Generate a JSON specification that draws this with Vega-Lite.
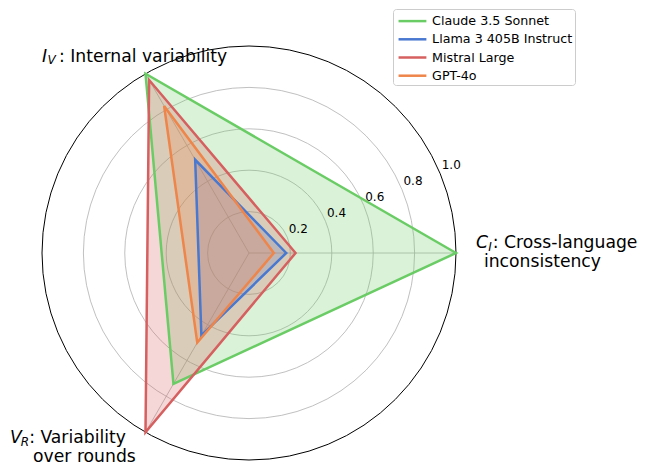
{
  "$schema": "https://vega.github.io/schema/vega-lite/v6.json",
  "width": 414,
  "height": 414,
  "autosize": "none",
  "padding": {"left": 42, "top": 46, "right": 198, "bottom": 15},
  "config": {"view": {"stroke": null}, "font": "DejaVu Sans"},
  "datasets": {
    "scores": [
      {"model": "Claude 3.5 Sonnet", "metric": "C_I", "k": 0, "value": 1.0},
      {"model": "Claude 3.5 Sonnet", "metric": "I_V", "k": 1, "value": 1.0},
      {"model": "Claude 3.5 Sonnet", "metric": "V_R", "k": 2, "value": 0.73},
      {"model": "Llama 3 405B Instruct", "metric": "C_I", "k": 0, "value": 0.18},
      {"model": "Llama 3 405B Instruct", "metric": "I_V", "k": 1, "value": 0.52},
      {"model": "Llama 3 405B Instruct", "metric": "V_R", "k": 2, "value": 0.46},
      {"model": "Mistral Large", "metric": "C_I", "k": 0, "value": 0.225},
      {"model": "Mistral Large", "metric": "I_V", "k": 1, "value": 0.965},
      {"model": "Mistral Large", "metric": "V_R", "k": 2, "value": 1.0},
      {"model": "GPT-4o", "metric": "C_I", "k": 0, "value": 0.12},
      {"model": "GPT-4o", "metric": "I_V", "k": 1, "value": 0.82},
      {"model": "GPT-4o", "metric": "V_R", "k": 2, "value": 0.5}
    ],
    "axes": [
      {"metric": "C_I", "k": 0, "r": 1},
      {"metric": "I_V", "k": 1, "r": 1},
      {"metric": "V_R", "k": 2, "r": 1}
    ],
    "rings": [{"r": 0.2}, {"r": 0.4}, {"r": 0.6}, {"r": 0.8}, {"r": 1.0}]
  },
  "layer": [
    {
      "data": {"name": "rings"},
      "transform": [{"filter": "datum.r < 1"}],
      "mark": {"type": "arc", "filled": false, "stroke": "#b0b0b0", "strokeWidth": 0.8, "theta": 0, "theta2": 6.2832},
      "encoding": {
        "radius": {"field": "r", "type": "quantitative", "stack": null, "scale": {"type": "linear", "domain": [0, 1], "range": [0, 207], "zero": true}}
      }
    },
    {
      "data": {"name": "rings"},
      "transform": [{"filter": "datum.r >= 1"}],
      "mark": {"type": "arc", "filled": false, "stroke": "#000000", "strokeWidth": 1, "theta": 0, "theta2": 6.2832},
      "encoding": {
        "radius": {"field": "r", "type": "quantitative", "stack": null, "scale": {"type": "linear", "domain": [0, 1], "range": [0, 207], "zero": true}}
      }
    },
    {
      "data": {"name": "axes"},
      "transform": [
        {"calculate": "datum.r*cos(datum.k*2*PI/3)", "as": "ex"},
        {"calculate": "datum.r*sin(datum.k*2*PI/3)", "as": "ey"},
        {"calculate": "0", "as": "ox"}
      ],
      "mark": {"type": "rule", "stroke": "#b0b0b0", "strokeWidth": 0.8},
      "encoding": {
        "x": {"field": "ox", "type": "quantitative", "scale": {"domain": [-1, 1], "nice": false, "zero": false}, "axis": null},
        "y": {"field": "ox", "type": "quantitative", "scale": {"domain": [-1, 1], "nice": false, "zero": false}, "axis": null},
        "x2": {"field": "ex"},
        "y2": {"field": "ey"}
      }
    },
    {
      "data": {"name": "scores"},
      "transform": [
        {"calculate": "datum.value*cos(datum.k*2*PI/3)", "as": "px"},
        {"calculate": "datum.value*sin(datum.k*2*PI/3)", "as": "py"}
      ],
      "mark": {"type": "line", "interpolate": "linear-closed", "strokeWidth": 0, "strokeOpacity": 0, "fillOpacity": 0.25},
      "encoding": {
        "x": {"field": "px", "type": "quantitative", "scale": {"domain": [-1, 1], "nice": false, "zero": false}, "axis": null},
        "y": {"field": "py", "type": "quantitative", "scale": {"domain": [-1, 1], "nice": false, "zero": false}, "axis": null},
        "order": {"field": "k", "type": "quantitative"},
        "fill": {
          "field": "model", "type": "nominal",
          "scale": {"domain": ["Claude 3.5 Sonnet", "Llama 3 405B Instruct", "Mistral Large", "GPT-4o"], "range": ["#6acc64", "#4878d0", "#d65f5f", "#ee854a"]},
          "legend": {
            "title": null, "orient": "none", "legendX": 351, "legendY": -37,
            "symbolType": "M-0.8,0H2.6", "symbolSize": 268, "symbolStrokeWidth": 2.5,
            "labelFontSize": 12.7, "labelFont": "DejaVu Sans", "labelColor": "#000000",
            "labelOffset": 17.5, "padding": 2.6, "rowPadding": 1.2,
            "strokeColor": "#cccccc", "fillColor": "#ffffff", "cornerRadius": 3
          }
        }
      }
    },
    {
      "data": {"name": "scores"},
      "transform": [
        {"calculate": "datum.value*cos(datum.k*2*PI/3)", "as": "px"},
        {"calculate": "datum.value*sin(datum.k*2*PI/3)", "as": "py"}
      ],
      "mark": {"type": "line", "interpolate": "linear-closed", "strokeWidth": 2.5, "strokeJoin": "miter"},
      "encoding": {
        "x": {"field": "px", "type": "quantitative", "scale": {"domain": [-1, 1], "nice": false, "zero": false}, "axis": null},
        "y": {"field": "py", "type": "quantitative", "scale": {"domain": [-1, 1], "nice": false, "zero": false}, "axis": null},
        "order": {"field": "k", "type": "quantitative"},
        "stroke": {
          "field": "model", "type": "nominal",
          "scale": {"domain": ["Claude 3.5 Sonnet", "Llama 3 405B Instruct", "Mistral Large", "GPT-4o"], "range": ["#6acc64", "#4878d0", "#d65f5f", "#ee854a"]},
          "legend": {
            "title": null, "orient": "none", "legendX": 351, "legendY": -37,
            "symbolType": "M-0.8,0H2.6", "symbolSize": 268, "symbolStrokeWidth": 2.5,
            "labelFontSize": 12.7, "labelFont": "DejaVu Sans", "labelColor": "#000000",
            "labelOffset": 17.5, "padding": 2.6, "rowPadding": 1.2,
            "strokeColor": "#cccccc", "fillColor": "#ffffff", "cornerRadius": 3
          }
        }
      }
    },
    {
      "data": {"name": "rings"},
      "transform": [
        {"calculate": "datum.r*cos(PI/8)", "as": "lx"},
        {"calculate": "datum.r*sin(PI/8)", "as": "ly"}
      ],
      "mark": {"type": "text", "align": "center", "baseline": "middle", "fontSize": 12, "font": "DejaVu Sans", "dx": 11, "dy": -8.5, "color": "#000000"},
      "encoding": {
        "x": {"field": "lx", "type": "quantitative", "scale": {"domain": [-1, 1], "nice": false, "zero": false}, "axis": null},
        "y": {"field": "ly", "type": "quantitative", "scale": {"domain": [-1, 1], "nice": false, "zero": false}, "axis": null},
        "text": {"field": "r", "type": "quantitative", "format": ".1f"}
      }
    },
    {
      "data": {"values": [{}]},
      "mark": {"type": "text", "text": "I", "align": "left", "baseline": "alphabetic", "fontSize": 17.2, "fontStyle": "italic", "font": "DejaVu Sans", "color": "#000000"},
      "encoding": {
        "x": {"datum": -1.0, "type": "quantitative", "scale": {"domain": [-1, 1], "nice": false, "zero": false}, "axis": null},
        "y": {"datum": 0.924, "type": "quantitative", "scale": {"domain": [-1, 1], "nice": false, "zero": false}, "axis": null}
      }
    },
    {
      "data": {"values": [{}]},
      "mark": {"type": "text", "text": "V", "align": "left", "baseline": "alphabetic", "fontSize": 12, "fontStyle": "italic", "font": "DejaVu Sans", "color": "#000000"},
      "encoding": {
        "x": {"datum": -0.974, "type": "quantitative", "scale": {"domain": [-1, 1], "nice": false, "zero": false}, "axis": null},
        "y": {"datum": 0.911, "type": "quantitative", "scale": {"domain": [-1, 1], "nice": false, "zero": false}, "axis": null}
      }
    },
    {
      "data": {"values": [{}]},
      "mark": {"type": "text", "text": ": Internal variability", "align": "left", "baseline": "alphabetic", "fontSize": 17.2, "font": "DejaVu Sans", "color": "#000000"},
      "encoding": {
        "x": {"datum": -0.918, "type": "quantitative", "scale": {"domain": [-1, 1], "nice": false, "zero": false}, "axis": null},
        "y": {"datum": 0.924, "type": "quantitative", "scale": {"domain": [-1, 1], "nice": false, "zero": false}, "axis": null}
      }
    },
    {
      "data": {"values": [{}]},
      "mark": {"type": "text", "text": "C", "align": "left", "baseline": "alphabetic", "fontSize": 17.2, "fontStyle": "italic", "font": "DejaVu Sans", "color": "#000000"},
      "encoding": {
        "x": {"datum": 1.097, "type": "quantitative", "scale": {"domain": [-1, 1], "nice": false, "zero": false}, "axis": null},
        "y": {"datum": 0.024, "type": "quantitative", "scale": {"domain": [-1, 1], "nice": false, "zero": false}, "axis": null}
      }
    },
    {
      "data": {"values": [{}]},
      "mark": {"type": "text", "text": "I", "align": "left", "baseline": "alphabetic", "fontSize": 12, "fontStyle": "italic", "font": "DejaVu Sans", "color": "#000000"},
      "encoding": {
        "x": {"datum": 1.156, "type": "quantitative", "scale": {"domain": [-1, 1], "nice": false, "zero": false}, "axis": null},
        "y": {"datum": 0.011, "type": "quantitative", "scale": {"domain": [-1, 1], "nice": false, "zero": false}, "axis": null}
      }
    },
    {
      "data": {"values": [{}]},
      "mark": {"type": "text", "text": ": Cross-language", "align": "left", "baseline": "alphabetic", "fontSize": 17.2, "font": "DejaVu Sans", "color": "#000000"},
      "encoding": {
        "x": {"datum": 1.178, "type": "quantitative", "scale": {"domain": [-1, 1], "nice": false, "zero": false}, "axis": null},
        "y": {"datum": 0.024, "type": "quantitative", "scale": {"domain": [-1, 1], "nice": false, "zero": false}, "axis": null}
      }
    },
    {
      "data": {"values": [{}]},
      "mark": {"type": "text", "text": "inconsistency", "align": "left", "baseline": "alphabetic", "fontSize": 17.2, "font": "DejaVu Sans", "color": "#000000"},
      "encoding": {
        "x": {"datum": 1.135, "type": "quantitative", "scale": {"domain": [-1, 1], "nice": false, "zero": false}, "axis": null},
        "y": {"datum": -0.068, "type": "quantitative", "scale": {"domain": [-1, 1], "nice": false, "zero": false}, "axis": null}
      }
    },
    {
      "data": {"values": [{}]},
      "mark": {"type": "text", "text": "V", "align": "left", "baseline": "alphabetic", "fontSize": 17.2, "fontStyle": "italic", "font": "DejaVu Sans", "color": "#000000"},
      "encoding": {
        "x": {"datum": -1.155, "type": "quantitative", "scale": {"domain": [-1, 1], "nice": false, "zero": false}, "axis": null},
        "y": {"datum": -0.92, "type": "quantitative", "scale": {"domain": [-1, 1], "nice": false, "zero": false}, "axis": null}
      }
    },
    {
      "data": {"values": [{}]},
      "mark": {"type": "text", "text": "R", "align": "left", "baseline": "alphabetic", "fontSize": 12, "fontStyle": "italic", "font": "DejaVu Sans", "color": "#000000"},
      "encoding": {
        "x": {"datum": -1.103, "type": "quantitative", "scale": {"domain": [-1, 1], "nice": false, "zero": false}, "axis": null},
        "y": {"datum": -0.934, "type": "quantitative", "scale": {"domain": [-1, 1], "nice": false, "zero": false}, "axis": null}
      }
    },
    {
      "data": {"values": [{}]},
      "mark": {"type": "text", "text": ": Variability", "align": "left", "baseline": "alphabetic", "fontSize": 17.2, "font": "DejaVu Sans", "color": "#000000"},
      "encoding": {
        "x": {"datum": -1.062, "type": "quantitative", "scale": {"domain": [-1, 1], "nice": false, "zero": false}, "axis": null},
        "y": {"datum": -0.92, "type": "quantitative", "scale": {"domain": [-1, 1], "nice": false, "zero": false}, "axis": null}
      }
    },
    {
      "data": {"values": [{}]},
      "mark": {"type": "text", "text": "over rounds", "align": "left", "baseline": "alphabetic", "fontSize": 17.2, "font": "DejaVu Sans", "color": "#000000"},
      "encoding": {
        "x": {"datum": -1.043, "type": "quantitative", "scale": {"domain": [-1, 1], "nice": false, "zero": false}, "axis": null},
        "y": {"datum": -1.008, "type": "quantitative", "scale": {"domain": [-1, 1], "nice": false, "zero": false}, "axis": null}
      }
    }
  ]
}
